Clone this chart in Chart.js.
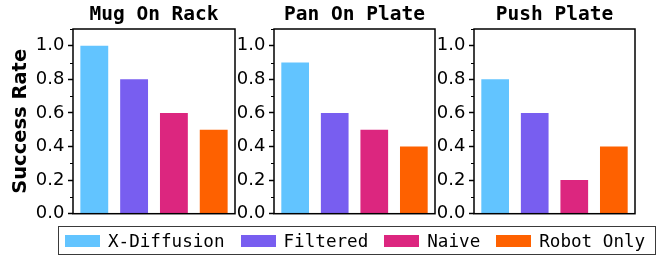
<!DOCTYPE html>
<html>
<head>
<meta charset="utf-8">
<script src="https://cdn.jsdelivr.net/npm/chart.js@4.4.0/dist/chart.umd.min.js"></script>
<style>
  body { margin: 0; background: #fff; }
  #fig { position: relative; width: 659px; height: 259px; overflow: hidden; }
  #fig canvas { position: absolute; top: 0; }
  #leyenda {
    position: absolute; left: 58px; top: 226px; width: 590px; height: 27px;
    border: 1.8px solid #3a3a3a; display: flex; align-items: center;
    padding-left: 6px; box-sizing: content-box; white-space: nowrap;
    font-family: "DejaVu Sans Mono", monospace; font-size: 17.6px; color: #000;
  }
  .item { display: flex; align-items: center; margin-right: 16px; flex-shrink: 0; }
  .cuadro { width: 35px; height: 12px; margin-right: 8px; flex-shrink: 0; }
</style>
</head>
<body>
<div id="fig">
  <canvas id="c0" width="238" height="228" style="left:0px"></canvas>
  <canvas id="c1" width="202" height="228" style="left:236px"></canvas>
  <canvas id="c2" width="202" height="228" style="left:436px"></canvas>
  <div id="leyenda"></div>
</div>
<script>
// datos de las tres tareas
const tareas = ['Mug On Rack', 'Pan On Plate', 'Push Plate'];
const metodos = ['X-Diffusion', 'Filtered', 'Naive', 'Robot Only'];
const mugOnRack = [1.0, 0.8, 0.6, 0.5];
const panOnPlate = [0.9, 0.6, 0.5, 0.4];
const pushPlate = [0.8, 0.6, 0.2, 0.4];
const yMin = 0;
const yMax = 1.1;
const yPaso = 0.1;

const colores = ['#62C4FF', '#785EF0', '#DC267F', '#FE6100'];
const valores = [mugOnRack, panOnPlate, pushPlate];

// marco negro alrededor del area y ticks menores
const marco = {
  id: 'marco',
  afterDraw(chart) {
    const ctx = chart.ctx;
    const a = chart.chartArea;
    const y = chart.scales.y;
    ctx.save();
    ctx.strokeStyle = '#000';
    ctx.lineWidth = 1;
    y.ticks.forEach((t, i) => {
      if (i % 2 === 1) {
        const py = Math.round(y.getPixelForValue(t.value)) + 0.5;
        ctx.beginPath();
        ctx.moveTo(a.left - 3, py);
        ctx.lineTo(a.left, py);
        ctx.stroke();
      }
    });
    ctx.lineWidth = 1.5;
    ctx.strokeRect(a.left, a.top, a.right - a.left, a.bottom - a.top);
    ctx.restore();
  }
};

function crearPanel(n) {
  const anchoEje = n === 0 ? 73 : 38;
  // cada barra en x = 0..3, como en matplotlib
  const puntos = valores[n].map((v, i) => ({ x: i, y: v }));
  new Chart(document.getElementById('c' + n), {
    type: 'bar',
    data: {
      labels: metodos,
      datasets: [{
        data: puntos,
        backgroundColor: colores,
        categoryPercentage: 1,
        barPercentage: 0.7
      }]
    },
    options: {
      responsive: false,
      animation: false,
      layout: { padding: { left: 0, right: 3, top: 0, bottom: 14 } },
      plugins: {
        legend: { display: false },
        tooltip: { enabled: false },
        title: {
          display: true,
          fullSize: false,
          text: tareas[n],
          color: '#000',
          font: { family: 'DejaVu Sans Mono', size: 19.5, weight: 'bold' },
          padding: { top: 3, bottom: 2.6 }
        }
      },
      scales: {
        x: { type: 'linear', min: -0.535, max: 3.535, offset: false, display: false },
        y: {
          min: yMin,
          max: yMax,
          afterFit(scale) { scale.width = anchoEje; },
          border: { display: false },
          grid: {
            drawOnChartArea: false,
            drawTicks: true,
            tickLength: 5,
            tickWidth: 1.5,
            tickColor: (c) => (c.index % 2 === 0 ? '#000' : 'rgba(0,0,0,0)')
          },
          ticks: {
            stepSize: yPaso,
            autoSkip: false,
            padding: 3.5,
            color: '#000',
            font: { family: 'DejaVu Sans', size: 18 },
            callback: (v, i) => (i % 2 === 0 ? v.toFixed(1) : '')
          },
          title: {
            display: n === 0,
            text: 'Success Rate',
            color: '#000',
            font: { family: 'DejaVu Sans', size: 19.5, weight: 'bold' },
            padding: { top: 9, bottom: 0 }
          }
        }
      }
    },
    plugins: [marco]
  });
}

for (let i = 0; i < tareas.length; i++) {
  crearPanel(i);
}

// leyenda comun abajo
const ley = document.getElementById('leyenda');
metodos.forEach((m, i) => {
  const it = document.createElement('div');
  it.className = 'item';
  it.innerHTML = `<div class="cuadro" style="background:${colores[i]}"></div><span>${m}</span>`;
  ley.appendChild(it);
});
</script>
</body>
</html>
